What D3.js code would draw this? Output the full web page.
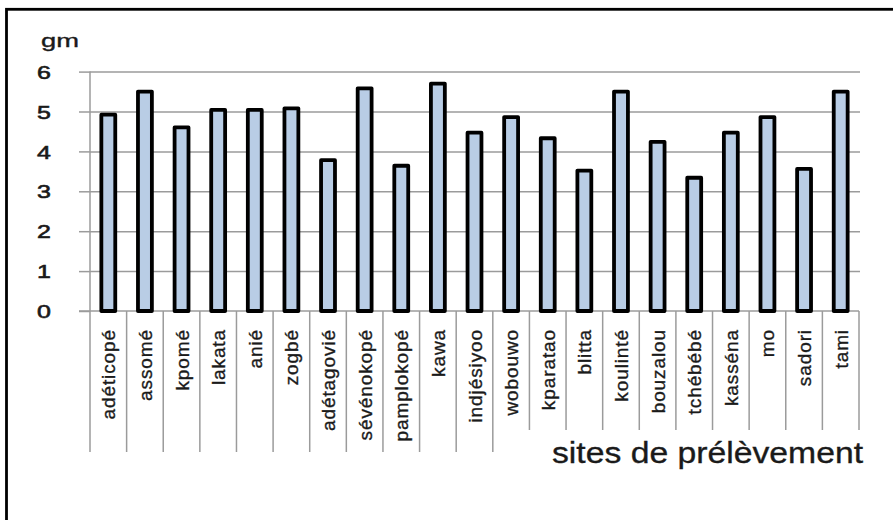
<!DOCTYPE html>
<html>
<head>
<meta charset="utf-8">
<script src="https://cdn.jsdelivr.net/npm/d3@7/dist/d3.min.js"></script>
<style>
  html, body { margin: 0; padding: 0; background: #fff; }
  svg { display: block; }
  text { font-family: "Liberation Sans", Arial, sans-serif; fill: #1a1a1a; stroke: #1a1a1a; stroke-width: 0.35; }
</style>
</head>
<body>
<svg id="chart" width="893" height="520"></svg>
<script>
// Sampling sites and measured values (gm)
const sites = ["adéticopé", "assomé", "kpomé", "lakata", "anié", "zogbé", "adétagovié",
  "sévénokopé", "pamplokopé", "kawa", "indjésiyoo", "wobouwo", "kparatao", "blitta",
  "koulinté", "bouzalou", "tchébébé", "kasséna", "mo", "sadori", "tami"];
const values = [4.92, 5.50, 4.60, 5.04, 5.04, 5.08, 3.78, 5.58, 3.64, 5.70, 4.47,
  4.86, 4.33, 3.52, 5.50, 4.24, 3.34, 4.47, 4.86, 3.56, 5.50];
const yTicks = [0, 1, 2, 3, 4, 5, 6];
const yUnit = "gm";
const xTitle = "sites de prélèvement";

const svg = d3.select("#chart");
const plot = { left: 90, right: 859, top: 71.6, bottom: 311 };
const gridColor = "#9b9b9b";

// Outer frame (its right and bottom edges fall outside the view)
svg.append("rect")
  .attr("x", 6.5).attr("y", 9.3)
  .attr("width", 920).attr("height", 560)
  .attr("fill", "none").attr("stroke", "#000").attr("stroke-width", 2.8);

const x = d3.scaleBand().domain(sites).range([plot.left, plot.right]).padding(0);
const y = d3.scaleLinear().domain([0, 6]).range([plot.bottom, plot.top]);

// Horizontal gridlines
const grid = svg.append("g").attr("transform", `translate(${plot.left},0)`)
  .call(d3.axisLeft(y).tickValues(yTicks.filter(t => t > 0)).tickSize(-(plot.right - plot.left + 1)).tickFormat(""));
grid.select(".domain").remove();
grid.selectAll("line").attr("stroke", gridColor).attr("stroke-width", 1.5);

// Y axis with outer tick marks
const yAxis = svg.append("g").attr("transform", `translate(${plot.left},0)`)
  .call(d3.axisLeft(y).tickValues(yTicks).tickFormat(d3.format("d")).tickSize(11).tickPadding(28));
yAxis.select(".domain").remove();
yAxis.selectAll("line").attr("stroke", gridColor).attr("stroke-width", 1.5);
yAxis.selectAll("text")
  .attr("font-size", 18.5)
  .attr("text-anchor", "end")
  .attr("dy", "0.36em")
  .attr("fill", "#1a1a1a")
  .style("stroke-width", 0.6)
  .each(function () {
    const t = d3.select(this);
    const tx = +t.attr("x");
    t.attr("x", 0).attr("transform", `translate(${tx},0) scale(1.35,1)`);
  });

// Unit label above the axis
svg.append("text")
  .attr("x", 41).attr("y", 47)
  .attr("font-size", 19)
  .attr("textLength", 38).attr("lengthAdjust", "spacingAndGlyphs")
  .text(yUnit);

// Axis title
const title = svg.append("text")
  .attr("x", 552).attr("y", 463)
  .attr("font-size", 30)
  .attr("textLength", 311).attr("lengthAdjust", "spacingAndGlyphs")
  .text(xTitle);
const titleLeft = title.node().getBBox().x;

// Category separators below the baseline
const edges = sites.map(s => x(s)).concat([x.range()[1]]);
svg.append("g").selectAll("line").data(edges).join("line")
  .attr("x1", d => d).attr("x2", d => d)
  .attr("y1", y(0))
  .attr("y2", d => d > titleLeft - 30 ? 430 : 452)
  .attr("stroke", gridColor).attr("stroke-width", 1.5);

// Vertical axis line
svg.append("line")
  .attr("x1", plot.left).attr("x2", plot.left)
  .attr("y1", plot.top).attr("y2", y(0))
  .attr("stroke", gridColor).attr("stroke-width", 1.5);

// Baseline
svg.append("line")
  .attr("x1", plot.left - 11).attr("x2", plot.right)
  .attr("y1", y(0)).attr("y2", y(0))
  .attr("stroke", gridColor).attr("stroke-width", 1.5);

// Bars
const barW = x.bandwidth() * 0.38;
svg.append("g").selectAll("rect").data(sites).join("rect")
  .attr("x", d => x(d) + (x.bandwidth() - barW) / 2)
  .attr("width", barW)
  .attr("y", (d, i) => y(values[i]))
  .attr("height", (d, i) => y(0) - y(values[i]))
  .attr("fill", "#b9cde5")
  .attr("stroke", "#000")
  .attr("stroke-width", 3.8)
  .attr("stroke-linejoin", "round");

// Rotated category labels
svg.append("g").selectAll("text").data(sites).join("text")
  .attr("transform", d => `translate(${x(d) + x.bandwidth() / 2 + 2},329) rotate(-90)`)
  .attr("text-anchor", "end")
  .attr("dominant-baseline", "middle")
  .attr("font-size", 19)
  .attr("letter-spacing", 0.9)
  .text(d => d);
</script>
</body>
</html>
